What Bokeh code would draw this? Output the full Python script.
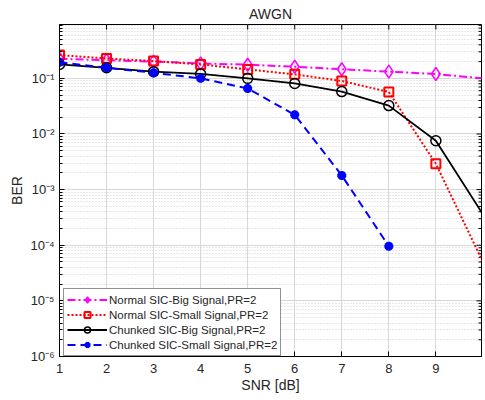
import math
from bokeh.plotting import figure
from bokeh.models import (FixedTicker, Legend, LegendItem, Range1d, Title)
from bokeh.embed import file_html
from bokeh.resources import INLINE

snr = [1, 2, 3, 4, 5, 6, 7, 8, 9, 10]
normal_big = [0.225, 0.212, 0.2, 0.186, 0.176, 0.162, 0.146, 0.132, 0.12, 0.1]
normal_small = [0.262, 0.228, 0.205, 0.178, 0.145, 0.118, 0.0898, 0.057, 0.00292, 5e-5]
chunked_big = [0.178, 0.155, 0.132, 0.12, 0.1, 0.081, 0.0578, 0.0324, 0.00755, 3.6e-4]
snr_small = [1, 2, 3, 4, 5, 6, 7, 8]
chunked_small = [0.194, 0.155, 0.126, 0.1, 0.066, 0.0221, 0.0018, 9.6e-5]

labels = ["Normal SIC-Big Signal,PR=2", "Normal SIC-Small Signal,PR=2",
          "Chunked SIC-Big Signal,PR=2", "Chunked SIC-Small Signal,PR=2"]
x_ticks = [1, 2, 3, 4, 5, 6, 7, 8, 9]
y_ticks = [1e-6, 1e-5, 1e-4, 1e-3, 1e-2, 1e-1]
y_tick_labels = ["10⁻⁶", "10⁻⁵", "10⁻⁴", "10⁻³", "10⁻²", "10⁻¹"]

X0, X1 = 1, 9.97
Y0, Y1 = 1e-6, 0.93

FONT = "Liberation Sans"
TXT = "#262626"

p = figure(width=483, height=398, y_axis_type="log", output_backend="svg",
           toolbar_location=None, x_range=Range1d(X0, X1), y_range=Range1d(Y0, Y1),
           min_border_left=59, min_border_right=2, min_border_bottom=42, min_border_top=23)
p.outline_line_color = "black"
p.outline_line_width = 1

t = Title(text="AWGN", align="center", text_font=FONT, text_font_size="14px",
          text_font_style="normal", text_color=TXT, standoff=6)
p.add_layout(t, "above")

minor = []
for e in range(-6, 0):
    for m in range(2, 10):
        v = m * 10 ** e
        if v < Y1:
            minor.append(v)

p.xaxis.ticker = FixedTicker(ticks=x_ticks, minor_ticks=[])
p.yaxis.ticker = FixedTicker(ticks=y_ticks, minor_ticks=minor)
p.yaxis.major_label_overrides = {v: s for v, s in zip(y_ticks, y_tick_labels)}

for ax in [p.xaxis[0], p.yaxis[0]]:
    ax.major_tick_in = 5
    ax.major_tick_out = 0
    ax.minor_tick_in = 3
    ax.minor_tick_out = 0
    ax.axis_line_color = "black"
    ax.major_tick_line_color = "black"
    ax.minor_tick_line_color = "black"
    ax.major_label_text_font = FONT
    ax.major_label_text_font_size = "13px"
    ax.major_label_text_color = TXT
    ax.axis_label_text_font = FONT
    ax.axis_label_text_font_size = "14px"
    ax.axis_label_text_font_style = "normal"
    ax.axis_label_text_color = TXT
p.xaxis.axis_label = "SNR [dB]"
p.yaxis.axis_label = "BER"
p.xaxis.major_label_standoff = 7
p.xaxis.axis_label_standoff = 1
p.yaxis.major_label_standoff = 5
p.yaxis.axis_label_standoff = 2

p.xgrid.grid_line_color = "#d8d8d8"
p.ygrid.grid_line_color = "#d8d8d8"
p.ygrid.minor_grid_line_color = "#cfcfcf"
p.ygrid.minor_grid_line_dash = "1 2"
p.xgrid.minor_grid_line_color = None

# inward ticks on top and right edges (half of each dash is clipped by the frame)
p.scatter(x_ticks, [Y1] * len(x_ticks), marker="dash", size=10, angle=math.pi / 2,
          line_color="black", line_width=1)
p.scatter([X1] * len(y_ticks), y_ticks, marker="dash", size=10, line_color="black", line_width=1)
p.scatter([X1] * len(minor), minor, marker="dash", size=6, line_color="black", line_width=1)

C = ["#ff00ff", "#ff0000", "black", "#0000ff"]

l1 = p.line(snr, normal_big, line_color=C[0], line_width=2, line_dash="8 3 2 3")
m1 = p.scatter(snr[:9], normal_big[:9], marker="diamond", size=13, line_color=C[0], line_width=1.5,
               fill_alpha=0)
l2 = p.line(snr, normal_small, line_color=C[1], line_width=2, line_dash="2 2")
m2 = p.scatter(snr[:9], normal_small[:9], marker="square", size=9, line_color=C[1], line_width=2,
               fill_alpha=0)
l3 = p.line(snr, chunked_big, line_color=C[2], line_width=1.8)
m3 = p.scatter(snr[:9], chunked_big[:9], marker="circle", size=10, line_color=C[2], line_width=1.5,
               fill_alpha=0)
l4 = p.line(snr_small, chunked_small, line_color=C[3], line_width=2, line_dash="8 5")
m4 = p.scatter(snr_small, chunked_small, marker="asterisk", size=9, line_color=C[3], line_width=3)

legend = Legend(items=[LegendItem(label=labels[0], renderers=[l1, m1]),
                       LegendItem(label=labels[1], renderers=[l2, m2]),
                       LegendItem(label=labels[2], renderers=[l3, m3]),
                       LegendItem(label=labels[3], renderers=[l4, m4])],
                location=(4, 0), label_text_font=FONT, label_text_font_size="11.5px",
                label_text_color=TXT, glyph_width=40, glyph_height=15, label_height=15,
                label_standoff=2, spacing=0, padding=3, margin=0,
                border_line_color="#262626", border_line_width=1, background_fill_alpha=1)
p.add_layout(legend, "center")

open("out.html", "w").write(file_html(p, INLINE))
